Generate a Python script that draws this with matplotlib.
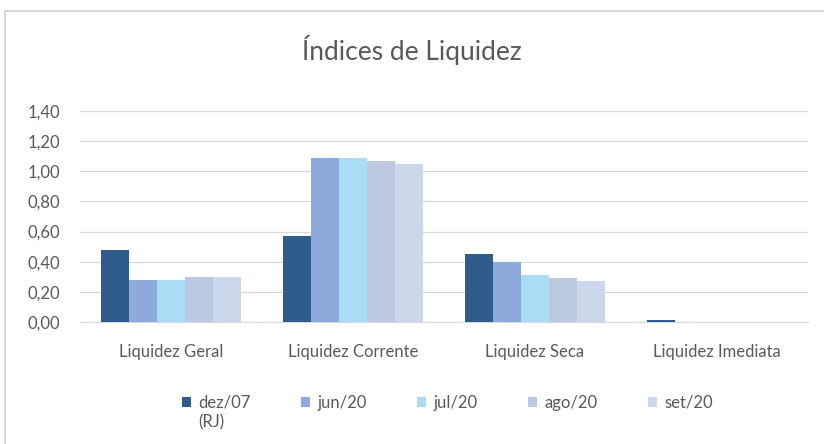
import numpy as np
import matplotlib.pyplot as plt
from matplotlib.patches import Rectangle

plt.rcParams['font.family'] = ['Lato', 'DejaVu Sans']

# dados
categorias = ['Liquidez Geral', 'Liquidez Corrente', 'Liquidez Seca', 'Liquidez Imediata']
periodos = ['dez/07', 'jun/20', 'jul/20', 'ago/20', 'set/20']
nota_dez07 = '(RJ)'
dez07 = [0.48, 0.57, 0.45, 0.01]
jun20 = [0.28, 1.09, 0.40, 0.00]
jul20 = [0.28, 1.09, 0.31, 0.00]
ago20 = [0.30, 1.07, 0.29, 0.00]
set20 = [0.30, 1.05, 0.27, 0.00]
yticks = [0.0, 0.2, 0.4, 0.6, 0.8, 1.0, 1.2, 1.4]

series = [dez07, jun20, jul20, ago20, set20]
cores = ['#2F5C8A', '#8EA9DB', '#A9DDF5', '#BDC9E1', '#CCD7EC']
cinza = '#595959'

fig = plt.figure(figsize=(8.24, 4.44), dpi=100)
ax = fig.add_axes([0.097, 0.275, 0.883, 0.475])

x = np.arange(len(categorias))
w = 0.154
for i, (vals, cor, nome) in enumerate(zip(series, cores, periodos)):
    ax.bar(x + (i - 2) * w, vals, w, color=cor, label=nome, zorder=3)

ax.set_xlim(-0.5, len(categorias) - 0.5)
ax.set_ylim(0, 1.4)
ax.set_yticks(yticks)
ax.set_yticklabels([f'{v:.2f}'.replace('.', ',') for v in yticks])
ax.set_xticks(x)
ax.set_xticklabels(categorias)
ax.tick_params(axis='both', length=0, colors=cinza, labelsize=12)
ax.tick_params(axis='x', pad=16)
ax.tick_params(axis='y', pad=14)
ax.grid(axis='y', color='#D9D9D9', lw=0.9, zorder=0)
for s in ['top', 'right', 'left']:
    ax.spines[s].set_visible(False)
ax.spines['bottom'].set_color('#D9D9D9')

fig.text(0.5, 0.887, 'Índices de Liquidez', ha='center', va='center',
         fontsize=19, color=cinza)

leg = fig.legend(loc='center', bbox_to_anchor=(0.543, 0.093), ncol=5,
                 frameon=False, fontsize=12, handlelength=0.55, handleheight=0.55,
                 handletextpad=0.45, columnspacing=3.0, borderpad=0)
for t in leg.get_texts():
    t.set_color(cinza)

# segunda linha do rótulo dez/07
fig.canvas.draw()
bb = leg.get_texts()[0].get_window_extent().transformed(fig.transFigure.inverted())
fig.text(bb.x0, bb.y0 - 0.008, nota_dez07, ha='left', va='top', fontsize=12, color=cinza)

fig.patches.append(Rectangle((5 / 824, -0.1), 1.1, 1.1 - 11 / 444, transform=fig.transFigure,
                             fill=False, edgecolor='#D0D0D0', lw=1.2))

fig.savefig('out.png', dpi=100)
